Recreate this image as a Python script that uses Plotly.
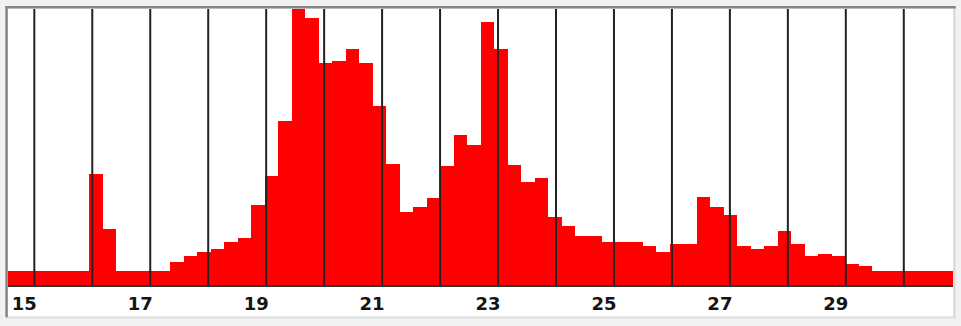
import plotly.graph_objects as go

# Histogram counts, one value per bin (70 equal-width bins)
counts = [
    14.5, 14.5, 14.5, 14.5, 14.5, 14.5,
    111, 55.7,
    14.5, 14.5, 14.5, 14.5,
    22.7, 29, 33.3, 35.7, 43.3, 47.3, 80, 109, 164, 275.7,
    266.7, 221.7, 224, 236, 221.7, 179, 121, 72.7, 77.7, 86.7,
    119.3, 150, 140, 263.3, 236, 120, 103.3, 106.7, 67.7, 59.3,
    49.3, 49.3, 43.3, 43.3, 43.3, 39, 33.3, 41, 41, 88.3,
    78.3, 70, 39.3, 35.7, 39.3, 54, 41, 29, 31, 29,
    21, 19,
    14.5, 14.5, 14.5, 14.5, 14.5, 14.5,
]
bin_start = 14.546
bin_width = 0.2329

grid_values = list(range(15, 31))
tick_values = [15, 17, 19, 21, 23, 25, 27, 29]
tick_labels = ["15", "17", "19", "21", "23", "25", "27", "29"]

centers = [bin_start + bin_width * (i + 0.5) for i in range(len(counts))]
x_end = bin_start + bin_width * len(counts)

fig = go.Figure(
    go.Bar(
        x=centers,
        y=counts,
        width=bin_width,
        marker=dict(color="#ff0000", line=dict(width=0)),
        hoverinfo="skip",
    )
)

shapes = []
# white panel behind plot and labels, with a sunken frame
shapes.append(dict(type="rect", xref="paper", yref="paper",
                   x0=-0.0015, x1=1.0, y0=-0.116, y1=1.0,
                   fillcolor="white", line=dict(width=0), layer="below"))
shapes.append(dict(type="line", xref="paper", yref="paper",
                   x0=1.0015, x1=1.0015, y0=-0.118, y1=1.004,
                   line=dict(color="#d6d6d6", width=2), layer="above"))
shapes.append(dict(type="line", xref="paper", yref="paper",
                   x0=-0.002, x1=1.003, y0=-0.118, y1=-0.118,
                   line=dict(color="#dedede", width=2), layer="above"))
shapes.append(dict(type="line", xref="paper", yref="paper",
                   x0=-0.0015, x1=-0.0015, y0=-0.117, y1=1.006,
                   line=dict(color="#858585", width=2.5), layer="above"))
shapes.append(dict(type="line", xref="paper", yref="paper",
                   x0=-0.003, x1=1.003, y0=1.006, y1=1.006,
                   line=dict(color="#858585", width=2.5), layer="above"))
# vertical grid lines drawn over the bars
for g in grid_values:
    shapes.append(dict(type="line", xref="x", yref="paper",
                       x0=g, x1=g, y0=0, y1=1,
                       line=dict(color="#222222", width=2), layer="above"))

fig.update_layout(
    width=961,
    height=326,
    margin=dict(l=8, r=8, t=9, b=41),
    paper_bgcolor="#f2f2f2",
    plot_bgcolor="white",
    bargap=0,
    showlegend=False,
    shapes=shapes,
    xaxis=dict(
        range=[bin_start, x_end],
        tickmode="array",
        tickvals=tick_values,
        ticktext=tick_labels,
        showgrid=False,
        zeroline=False,
        showline=True,
        linecolor="#333333",
        linewidth=2,
        ticks="",
        ticklabelshift=-10,
        ticklabelstandoff=1,
        tickfont=dict(family="DejaVu Sans", size=18, color="#151515", weight="bold"),
        fixedrange=True,
    ),
    yaxis=dict(
        range=[0, 276],
        showgrid=False,
        zeroline=False,
        showticklabels=False,
        showline=False,
        ticks="",
        fixedrange=True,
    ),
)

fig.write_html("out.html", config={"displayModeBar": False})
